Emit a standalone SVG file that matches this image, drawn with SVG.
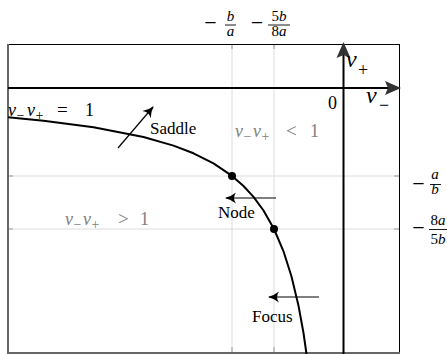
<svg xmlns="http://www.w3.org/2000/svg" width="447" height="354" viewBox="0 0 447 354">
<defs>
<style>
.grid{stroke:#dcdcdc;stroke-width:1;fill:none}
.tick{stroke:#999;stroke-width:1;fill:none}
.axis{stroke:#000;stroke-width:2;fill:none}
.t{font-family:'Liberation Serif','DejaVu Serif',serif;fill:#000}
.i{font-style:italic}
.g{fill:#808080}
.s{font-size:14px}
.op{font-size:19px}
.arr{stroke:#000;stroke-width:1.2;fill:none;marker-end:url(#ah)}
.bar{stroke:#000;stroke-width:0.9}
</style>
<marker id="ah" viewBox="-12 -7 14 14" markerWidth="14" markerHeight="14" refX="0" refY="0" orient="auto" markerUnits="userSpaceOnUse">
<path d="M1,0 Q-5,-1.5 -10,-5.5 Q-6,0 -10,5.5 Q-5,1.5 1,0Z" fill="#000"/>
</marker>
</defs>
<rect width="447" height="354" fill="#fff"/>

<g id="grid">
<line class="grid" x1="232" y1="44" x2="232" y2="352"/>
<line class="grid" x1="274" y1="44" x2="274" y2="352"/>
<line class="grid" x1="8" y1="176" x2="399" y2="176"/>
<line class="grid" x1="8" y1="229" x2="399" y2="229"/>
<path class="tick" d="M232,44v5M274,44v5M232,352v-5M274,352v-5M8,176h5M8,229h5M399,176h-5M399,229h-5"/>
</g>

<g id="frame">
<line x1="8" y1="44.5" x2="399.5" y2="44.5" stroke="#000" stroke-width="1"/>
<line x1="399.5" y1="44" x2="399.5" y2="352" stroke="#000" stroke-width="1"/>
<line x1="8" y1="44" x2="8" y2="354" stroke="#666" stroke-width="2"/>
<line x1="7" y1="353" x2="400" y2="353" stroke="#666" stroke-width="2"/>
</g>

<g id="axes">
<line class="axis" x1="8" y1="88" x2="390" y2="88"/>
<polygon points="401,88 385,81 388,88 385,95" fill="#333"/>
<line class="axis" x1="343.5" y1="354" x2="343.5" y2="54"/>
<polygon points="343.5,42 336.5,58 343.5,55 350.5,58" fill="#333"/>
</g>

<g id="curve">
<path d="M8,117.2 L43.5,120.7 L93.5,127.2 L143.5,137 L173.5,145.6 L193.5,153.3 L213.5,163.4 L232,175.9 L243.5,186 L253.5,196.9 L263.5,210.5 L274,229 L283.5,251.3 L291.5,276.5 L298.5,305.8 L303.5,333 L306.5,354" fill="none" stroke="#000" stroke-width="2" stroke-linejoin="round"/>
</g>

<g id="points">
<circle cx="232" cy="176" r="4" fill="#000"/>
<circle cx="274" cy="229" r="4" fill="#000"/>
</g>

<g id="connectors">
<line class="arr" x1="118" y1="148" x2="153" y2="107"/>
<line class="arr" x1="276" y1="198" x2="226" y2="198"/>
<line class="arr" x1="319" y1="297" x2="269" y2="297"/>
</g>

<g id="labels">
<text class="t" font-size="18" y="116"><tspan class="i" x="8">v</tspan><tspan class="s" x="16.5" dy="4">−</tspan><tspan class="i" x="27" dy="-4">v</tspan><tspan class="s" x="35.5" dy="4">+</tspan><tspan class="op" x="57" dy="-4">=</tspan><tspan x="85">1</tspan></text>
<text class="t g" font-size="18" y="137"><tspan class="i" x="235">v</tspan><tspan class="s" x="243.5" dy="4">−</tspan><tspan class="i" x="253" dy="-4">v</tspan><tspan class="s" x="261.5" dy="4">+</tspan><tspan class="op" x="286" dy="-4">&lt;</tspan><tspan x="310">1</tspan></text>
<text class="t g" font-size="18" y="225"><tspan class="i" x="65">v</tspan><tspan class="s" x="73.5" dy="4">−</tspan><tspan class="i" x="83" dy="-4">v</tspan><tspan class="s" x="91.5" dy="4">+</tspan><tspan class="op" x="118" dy="-4">&gt;</tspan><tspan x="140">1</tspan></text>
<text class="t" font-size="17" x="150" y="134">Saddle</text>
<text class="t" font-size="17" x="218" y="218">Node</text>
<text class="t" font-size="17" x="252" y="322">Focus</text>
<text class="t" font-size="18" x="328" y="109">0</text>
<text class="t" font-size="24" y="67"><tspan class="i" x="346">v</tspan><tspan x="358" dy="9" font-size="18">+</tspan></text>
<text class="t" font-size="24" y="103"><tspan class="i" x="366">v</tspan><tspan x="379" dy="8" font-size="18">−</tspan></text>
</g>

<g id="fractions">
<text class="t" font-size="22" x="210.5" y="30" text-anchor="middle">−</text>
<text class="t i" font-size="15" x="230.5" y="21" text-anchor="middle">b</text>
<line class="bar" x1="225" y1="25" x2="236" y2="25"/>
<text class="t i" font-size="15" x="230.5" y="36" text-anchor="middle">a</text>

<text class="t" font-size="22" x="257" y="30" text-anchor="middle">−</text>
<text class="t" font-size="15" x="279" y="21" text-anchor="middle">5<tspan class="i">b</tspan></text>
<line class="bar" x1="268" y1="25" x2="290" y2="25"/>
<text class="t" font-size="15" x="279" y="36" text-anchor="middle">8<tspan class="i">a</tspan></text>

<text class="t" font-size="22" x="418.5" y="190.5" text-anchor="middle">−</text>
<text class="t i" font-size="15" x="435" y="179" text-anchor="middle">a</text>
<line class="bar" x1="430" y1="184.5" x2="441" y2="184.5"/>
<text class="t i" font-size="15" x="435" y="194" text-anchor="middle">b</text>

<text class="t" font-size="22" x="418.5" y="235" text-anchor="middle">−</text>
<text class="t" font-size="15" x="438" y="225" text-anchor="middle">8<tspan class="i">a</tspan></text>
<line class="bar" x1="429" y1="229.5" x2="447" y2="229.5"/>
<text class="t" font-size="15" x="438" y="244" text-anchor="middle">5<tspan class="i">b</tspan></text>
</g>
</svg>
